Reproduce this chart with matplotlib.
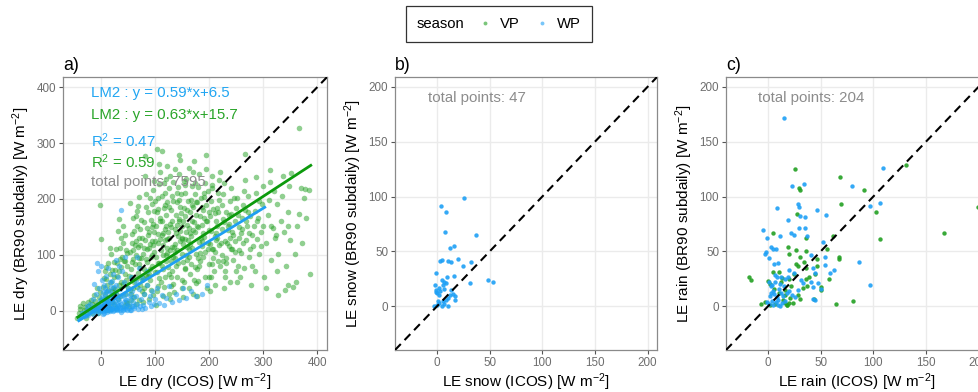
import matplotlib.pyplot as plt
from matplotlib.lines import Line2D
from matplotlib.offsetbox import HPacker
import numpy as np

plt.rcParams["font.family"] = ["Liberation Sans", "DejaVu Sans"]
plt.rcParams["mathtext.default"] = "regular"

VP_COL = "#22a022"
WP_COL = "#1ea0f5"

# ---- panel a: dry, a hand-read sample of the cloud ----
dry_vp = [
    (-44,-12),(-41,-4),(-38,3),(-36,-9),(-31,1),(-29,7),(-26,-5),(-23,9),(-21,-1),(-17,13),(-16,-3),(-13,5),
    (-11,17),(-9,1),(-7,11),(-4,24),(-3,3),(-39,9),(-34,14),(-27,-13),(-1,33),(-6,-4),(-2,189),(1,128),
    (-19,20),(-12,28),(-8,40),(-24,15),
    (2,4),(6,11),(9,22),(11,1),(13,37),(15,9),(18,52),(21,16),(22,29),(24,61),(3,43),(7,71),(14,86),(19,101),
    (10,57),(17,4),(23,41),(1,19),(8,31),(12,23),(20,73),(25,12),(5,58),(16,66),(4,9),(11,47),(24,88),(17,112),
    (9,79),(21,35),
    (27,6),(31,21),(33,46),(34,72),(39,96),(41,121),(43,9),(44,31),(46,56),(49,81),(28,111),(32,142),(36,26),
    (45,66),(48,103),(26,39),(30,86),(38,51),(40,152),(47,16),(29,62),(37,131),(42,89),(50,41),(35,112),(26,73),
    (44,135),(33,165),(48,14),(38,78),(29,28),(46,108),(41,48),(36,92),
    (52,9),(56,31),(58,61),(59,92),(63,118),(66,151),(67,179),(71,19),(72,46),(73,77),(53,106),(57,137),(60,166),
    (62,51),(64,13),(65,99),(69,68),(70,131),(74,162),(75,36),(54,192),(61,24),(63,83),(68,114),(72,146),(51,63),
    (70,203),(55,74),(58,122),(67,42),(74,95),(62,142),(53,37),(66,58),(73,118),(57,88),(69,187),(60,108),
    (64,170),(71,84),
    (77,16),(79,41),(83,63),(84,92),(88,113),(89,141),(93,163),(94,191),(96,216),(99,232),(78,101),(82,126),
    (85,149),(87,177),(90,201),(91,56),(94,81),(96,29),(98,106),(76,131),(80,159),(83,186),(88,21),(95,124),
    (100,69),(81,241),(92,96),(86,46),(97,156),(82,276),(79,75),(91,120),(86,88),(99,178),(77,58),(93,38),
    (84,209),(89,66),(98,141),(80,112),(95,99),(87,135),
    (101,11),(104,36),(107,59),(108,86),(111,109),(112,136),(113,161),(116,184),(119,211),(120,236),(122,259),
    (103,289),(112,286),(101,151),(104,176),(106,201),(107,226),(110,249),(111,51),(114,74),(115,99),(118,126),
    (119,146),(121,171),(123,194),(125,219),(105,121),(115,26),(108,262),(120,89),(124,141),(100,196),(109,166),
    (118,61),(102,96),(122,113),(106,138),(117,42),(124,78),(113,205),(103,70),(121,152),(110,128),(116,228),
    (105,182),(123,103),(114,117),(119,190),
    (127,21),(129,44),(131,71),(133,96),(136,119),(137,146),(139,171),(141,194),(142,221),(145,244),(147,269),
    (149,101),(126,131),(128,156),(130,181),(132,206),(134,231),(136,254),(138,81),(140,109),(143,134),(144,161),
    (146,186),(148,209),(150,56),(135,34),(144,279),(128,241),(140,61),(150,151),(132,114),(146,124),(130,90),
    (148,175),(126,66),(139,139),(134,196),(143,86),(137,106),(149,128),(131,161),(145,199),(127,108),(141,153),
    (133,48),
    (152,24),(154,51),(156,76),(158,99),(161,126),(162,149),(164,176),(166,199),(168,224),(170,248),(172,268),
    (174,141),(151,161),(153,184),(155,211),(157,236),(159,91),(160,114),(163,41),(165,66),(167,134),(169,161),
    (171,186),(173,209),(175,101),(157,141),(163,256),(170,31),(152,119),(166,84),(174,229),(155,170),(161,196),
    (168,112),(173,78),(151,88),(159,153),(165,120),(171,145),(156,128),(162,96),(169,190),(154,232),(172,55),
    (177,26),(179,54),(181,81),(183,104),(185,131),(187,154),(189,181),(191,204),(193,229),(194,278),(195,254),
    (197,121),(199,144),(176,171),(178,194),(180,221),(182,244),(184,89),(186,116),(188,139),(190,166),(192,61),
    (194,189),(196,41),(198,214),(200,84),(185,201),(193,106),(178,151),(199,176),(181,123),(188,96),(196,160),
    (183,170),(191,132),(177,74),(198,110),(186,185),
    (202,36),(204,61),(206,84),(208,111),(210,134),(212,161),(214,184),(216,211),(218,234),(220,249),(222,121),
    (224,146),(201,169),(203,196),(205,219),(207,94),(209,71),(211,46),(213,126),(215,151),(217,176),(219,199),
    (221,81),(223,99),(225,164),(206,241),(214,131),(203,142),(211,106),(219,118),(208,182),(216,90),(223,190),
    (201,120),
    (227,41),(229,71),(231,94),(233,121),(235,144),(237,171),(239,196),(241,219),(243,111),(245,136),(247,161),
    (249,184),(226,209),(228,229),(230,61),(232,86),(234,151),(236,116),(238,51),(240,174),(242,141),(244,91),
    (246,201),(248,124),(250,71),(231,176),(239,131),(247,105),(228,158),
    (252,51),(254,81),(256,109),(258,139),(260,166),(262,189),(264,214),(266,234),(267,280),(268,126),(270,151),
    (272,176),(274,96),(251,201),(253,171),(255,131),(257,61),(259,104),(261,146),(263,121),(265,76),(267,181),
    (269,161),(271,206),(273,139),(275,111),
    (277,46),(279,81),(281,116),(283,151),(285,179),(287,211),(289,129),(291,166),(293,101),(295,141),(297,191),
    (299,224),(276,169),(280,136),(284,71),(288,161),(292,196),(296,116),(300,151),(286,239),
    (302,61),(305,121),(308,171),(310,199),(312,231),(314,152),(315,91),(318,149),(320,214),(322,131),(324,135),
    (325,191),(327,29),(328,101),(332,161),(335,206),(338,141),(340,38),(342,81),(345,176),(346,47),(346,152),
    (348,224),(350,126),(313,251),(306,41),(326,71),(336,241),(355,42),(358,101),(360,52),(363,151),(367,174),
    (370,219),(377,218),(379,166),(372,121),(375,201),(386,65),(367,326),(352,246),(385,216),
    # extra reads in the dense core
    (60,40),(75,55),(90,75),(105,85),(120,100),(135,115),(150,130),(165,140),(180,150),(195,160),(210,175),
    (70,95),(85,110),(100,125),(115,140),(130,150),(145,165),(160,180),(175,195),(190,210),(205,225),
    (55,20),(80,30),(105,45),(130,60),(155,75),(180,95),(205,110),(230,125),(255,150),(110,160),(125,185),
    (140,210),(155,225),(95,150),(65,125),(45,90),(125,30),(150,40),(175,50),(200,60),(225,90),(240,110),
    (87,62),(112,80),(137,95),(162,110),(187,125),(212,140),(237,155),(97,118),(122,128),(147,142),(172,158),
]
dry_wp = [
    (-41,-13),(-37,-9),(-33,-6),(-29,-2),(-26,1),(-23,-7),(-21,3),(-18,-1),(-16,5),(-13,1),(-11,9),(-9,-2),
    (-7,6),(-5,13),(-4,2),(-2,19),(-1,-1),(-8,86),(1,80),(-5,71),(-3,41),(-10,31),(-15,21),(-20,12),(-25,8),
    (-12,48),
    (0,1),(1,5),(2,11),(3,0),(4,7),(5,16),(6,3),(7,26),(8,9),(9,1),(10,5),(11,13),(12,36),(13,2),(14,19),(15,7),
    (16,51),(17,0),(18,11),(19,29),(20,4),(2,56),(6,46),(10,63),(14,76),(4,33),(8,41),(12,23),(18,42),(3,21),
    (21,6),(22,16),(24,1),(25,31),(26,9),(28,46),(30,3),(31,21),(32,61),(34,11),(35,39),(36,2),(38,26),(39,71),
    (40,7),(42,16),(43,51),(45,4),(46,31),(48,11),(50,41),(52,6),(54,21),(55,61),(57,9),(58,36),(60,16),
    (38,181),(27,91),(33,81),(44,96),(23,66),(29,13),(47,19),(53,29),
    (62,5),(64,26),(65,51),(67,12),(70,39),(72,8),(74,21),(76,59),(78,11),(80,31),(82,6),(85,46),(88,16),
    (90,26),(93,9),(95,36),(98,13),(100,21),(104,41),(108,14),(112,29),(116,10),(120,23),(70,76),(85,71),(66,96),
    (126,44),(131,16),(138,31),(145,19),(151,41),(157,23),(166,36),(175,26),(186,31),(196,46),
    (5,-3),(11,-2),(16,2),(22,-1),(27,3),(33,5),(37,-2),(41,1),(49,2),(56,1),(61,9),(68,3),(75,4),(8,14),
    (15,24),(26,18),(37,12),(44,22),(51,13),(3,-5),(-3,8),(9,33),(19,16),(31,8),(59,24),
    (7,1),(13,8),(18,4),(24,9),(29,1),(35,7),(42,5),(47,8),(53,2),(0,9),(6,18),(14,13),(23,24),(28,33),
    (34,18),(40,28),(-6,-4),(-14,-6),(-30,-10),(-35,-3),(2,25),(10,22),(17,35),(21,53),(25,43),
]

# fitted lines (slope, intercept, x extent) as printed on panel a
lm_vp = (0.63, 15.7, -45, 390)
lm_wp = (0.59, 6.5, -43, 305)
r2_vp, r2_wp = 0.59, 0.47
n_dry = 7595

# ---- panel b: snow (WP only) ----
snow_wp = [
    (25.2,99.0),(3.8,91.2),(8.5,86.0),(7.8,67.9),(37.1,65.2),(15.7,55.0),(12.6,52.6),
    (2.5,41.2),(4.3,41.8),(10.4,41.2),(13.2,40.3),(19.8,42.7),(32.4,40.3),(24.9,36.3),
    (-0.7,29.9),(15.7,27.4),(5.0,24.3),(6.9,22.1),(6.0,19.7),(8.5,21.0),(31.5,21.2),(48.8,23.7),(52.9,22.1),
    (-1.6,19.1),(-1.0,15.1),(1.5,16.6),(3.1,13.8),(0.0,12.3),(13.5,14.5),(14.8,11.4),(16.6,8.9),
    (10.4,7.4),(8.8,5.3),(5.3,4.3),(1.5,2.8),(-3.2,0.6),(0.0,0.8),(4.3,0.0),(10.4,0.4),(17.0,6.0),
    (-1.5,13.0),(2.0,10.5),(7.0,16.0),(9.0,27.0),(12.0,10.0),(1.0,5.0),(6.5,2.0),
]
n_snow = 47

# ---- panel c: rain ----
rain_vp = [
    (25.7,125.0),(68.4,118.0),(28.9,108.2),(30.5,106.4),(90.9,106.0),(69.4,93.4),(27.6,84.2),(102.1,85.7),
    (106.3,61.5),(4.8,66.7),(35.6,62.1),(61.7,63.6),(18.6,54.4),(35.6,50.7),(26.7,51.3),(20.2,47.6),
    (30.2,45.2),(55.9,52.0),(67.4,45.2),(67.7,42.8),(46.9,42.8),(33.7,40.6),(26.3,38.4),(28.0,37.0),
    (46.0,36.9),(35.6,34.5),(44.6,29.2),(58.1,24.6),(-18.6,26.7),(-16.7,23.7),(5.1,30.8),(9.9,30.8),
    (25.0,28.9),(20.2,25.2),(49.8,17.5),(50.1,15.1),(37.3,18.4),(33.0,17.0),(0.0,23.0),(2.0,20.0),(12.0,22.0),
    (15.6,15.0),(16.5,10.0),(14.5,6.0),(16.0,3.0),(18.0,1.5),(19.5,2.5),(17.5,1.0),(28.2,10.5),(30.5,6.5),
    (43.6,6.5),(64.5,2.2),(80.6,5.0),(-6.4,1.6),(2.0,1.0),(7.0,2.0),(-3.0,4.0),(130.7,128.8),(167.6,67.0),
    (199.7,90.7),(22.0,18.0),(10.0,12.0),(6.0,16.0),(24.0,3.0),(21.0,7.5),(36.0,25.0),(38.5,27.0),(13.0,26.0),
]
rain_wp = [
    (14.7,172.0),(108.9,125.7),(34.4,111.2),(22.8,109.7),(80.0,109.4),(106.6,94.4),(96.6,91.3),
    (28.2,92.8),(29.2,90.7),(8.4,89.8),(46.9,87.6),(55.2,83.6),(30.2,82.0),(35.0,81.5),(19.0,79.0),
    (29.6,71.3),(34.7,71.3),(-4.8,69.8),(21.9,66.7),(24.4,64.5),(11.3,64.2),(-0.6,62.1),(37.3,64.2),
    (3.2,54.4),(5.1,52.5),(7.4,52.0),(-2.2,49.8),(-2.9,47.7),(51.7,58.1),(40.5,46.7),(54.3,45.2),
    (1.3,43.7),(86.7,40.3),(9.3,39.0),(5.8,38.4),(54.0,37.5),(19.6,32.9),(25.0,29.9),(42.4,34.5),
    (44.3,29.9),(62.3,32.9),(58.8,29.9),(97.3,19.1),(8.0,26.4),(12.5,26.4),(15.6,24.9),(18.8,26.4),
    (30.8,23.7),(32.8,21.2),(40.5,22.1),(42.7,17.5),(47.5,21.2),(50.1,16.0),(44.3,5.9),(42.7,6.5),
    (0.5,22.0),(2.5,18.0),(4.5,14.0),(6.0,11.0),(8.0,8.0),(9.5,6.0),(3.5,5.0),(1.0,2.0),(5.0,1.0),(9.0,1.0),
    (-1.0,4.0),(10.5,16.0),(12.0,12.0),(14.0,9.0),(4.0,19.0),(7.0,22.0),(15.5,18.0),(13.0,3.0),(17.5,12.0),
    (20.0,14.0),(23.0,10.0),(11.0,20.0),(6.5,28.0),(2.0,9.0),(16.0,5.0),(26.0,8.0),(28.0,15.0),(7.5,3.5),
    (3.0,12.0),(11.5,0.5),
]
n_rain = 204


def style_axes(ax, lims, ticks):
    ax.set_xlim(lims)
    ax.set_ylim(lims)
    ax.set_xticks(ticks)
    ax.set_yticks(ticks)
    ax.grid(True, color="#ebebeb", lw=1.0, zorder=0)
    ax.set_axisbelow(True)
    for s in ax.spines.values():
        s.set_color("#8a8a8a")
        s.set_linewidth(0.9)
    ax.tick_params(labelsize=8.4, labelcolor="#6e6e6e", color="#555555",
                   length=3, width=0.8, pad=2)
    ax.axline((0, 0), slope=1, color="black", lw=1.5, ls=(0, (4, 2.6)), zorder=5)


def scatter(ax, pts, col, alpha, s=9):
    xy = np.array(pts, dtype=float)
    ax.scatter(xy[:, 0], xy[:, 1], s=s, c=col, alpha=alpha, lw=0, zorder=3)


def labels(ax, kind, tag):
    ax.set_xlabel(f"LE {kind} (ICOS) [W m$^{{-2}}$]", fontsize=11, labelpad=2)
    ax.set_ylabel(f"LE {kind} (BR90 subdaily) [W m$^{{-2}}$]", fontsize=11, labelpad=3)
    ax.set_title(tag, loc="left", fontsize=12.7, pad=5)


fig = plt.figure(figsize=(9.79, 3.92), dpi=100)
h = 0.6964
ax_a = fig.add_axes([0.0644, 0.1071, 0.2697, h])
ax_b = fig.add_axes([0.4035, 0.1071, 0.2676, h])
ax_c = fig.add_axes([0.7416, 0.1071, 0.2676, h])

# panel a
style_axes(ax_a, (-70, 418), [0, 100, 200, 300, 400])
scatter(ax_a, dry_vp, VP_COL, 0.5, s=16)
scatter(ax_a, dry_wp, WP_COL, 0.55, s=15)
for (a, b, x0, x1), col in [(lm_vp, "#0c9a0c"), (lm_wp, "#1e9ff2")]:
    xs = np.array([x0, x1])
    ax_a.plot(xs, a * xs + b, color=col, lw=2.0, zorder=4, solid_capstyle="butt")

ann = [
    (389, f"LM2 : y = {lm_wp[0]}*x+{lm_wp[1]}", "#22a6f2"),
    (350, f"LM2 : y = {lm_vp[0]}*x+{lm_vp[1]}", "#2aa52a"),
    (305, f"R$^2$ = {r2_wp}", "#22a6f2"),
    (267, f"R$^2$ = {r2_vp}", "#2aa52a"),
    (231, f"total points: {n_dry}", "#8c8c8c"),
]
for yy, txt, col in ann:
    ax_a.text(-18, yy, txt, color=col, fontsize=10.8, va="center", ha="left", zorder=6)
labels(ax_a, "dry", "a)")

# panel b
style_axes(ax_b, (-40, 209), [0, 50, 100, 150, 200])
scatter(ax_b, snow_wp, WP_COL, 0.9, s=10)
ax_b.text(-8.5, 189.5, f"total points: {n_snow}", color="#8c8c8c", fontsize=10.8,
          va="center", ha="left")
labels(ax_b, "snow", "b)")

# panel c
style_axes(ax_c, (-40, 209), [0, 50, 100, 150, 200])
scatter(ax_c, rain_vp, VP_COL, 0.9, s=10)
scatter(ax_c, rain_wp, WP_COL, 0.9, s=10)
ax_c.text(-9.6, 189.5, f"total points: {n_rain}", color="#8c8c8c", fontsize=10.8,
          va="center", ha="left")
labels(ax_c, "rain", "c)")

# legend with the title on the left, ggplot style
handles = [Line2D([], [], ls="none", marker="o", ms=2.8, mec="none", mfc=c, alpha=0.6)
           for c in (VP_COL, WP_COL)]
leg = fig.legend(handles, ["VP", "WP"], title="season", ncol=2, loc="center",
                 bbox_to_anchor=(0.5097, 0.9388), fontsize=10.7, title_fontsize=10.7,
                 frameon=True, fancybox=False, edgecolor="#333333", framealpha=1,
                 handlelength=1.0, handletextpad=0.5, columnspacing=1.0, borderpad=0.75)
leg.get_frame().set_linewidth(0.9)
fs = leg._fontsize
box = HPacker(pad=leg.borderpad * fs, sep=0.9 * fs, align="center",
              children=[leg._legend_title_box, leg._legend_handle_box])
box.set_figure(fig)
box.set_offset(leg._findoffset)
leg._legend_box = box

fig.savefig("out.png", dpi=100)
